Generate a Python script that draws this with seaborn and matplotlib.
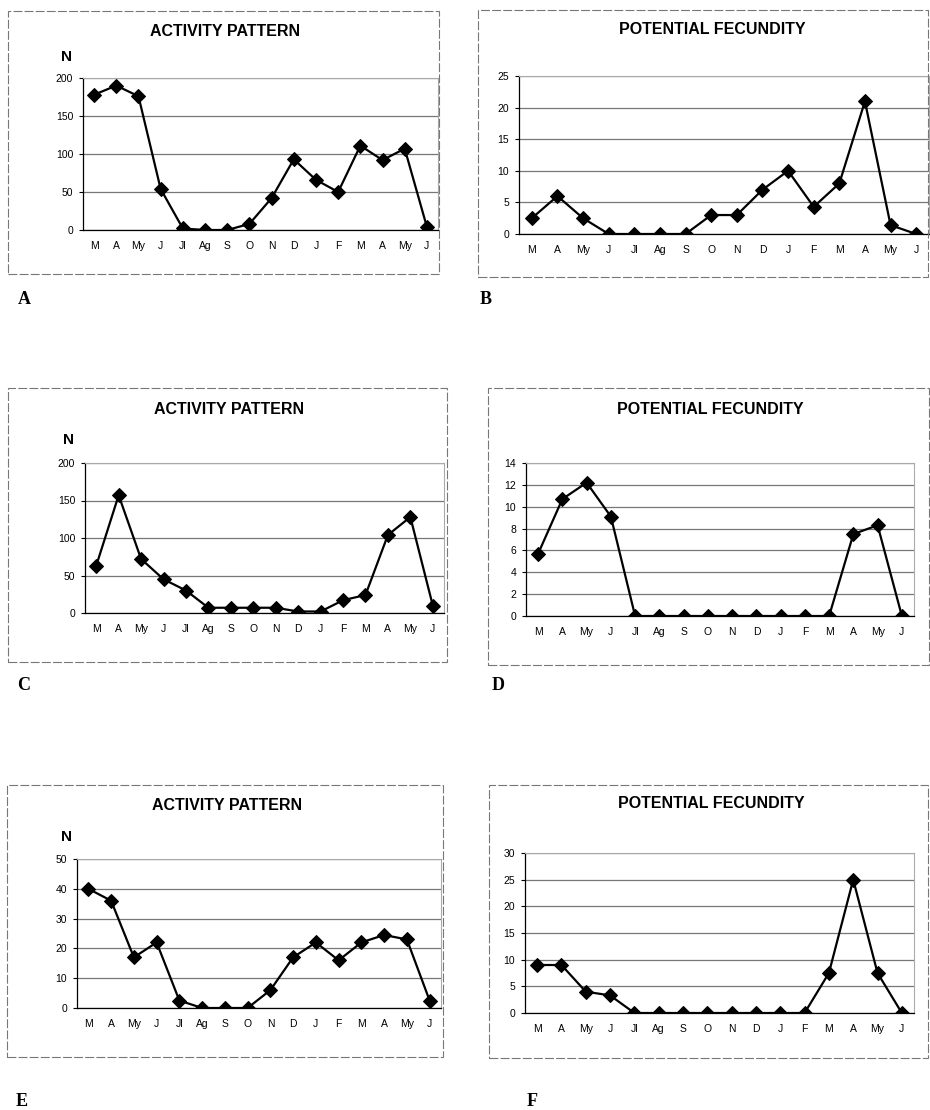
import matplotlib
matplotlib.use("Agg")
import matplotlib.pyplot as plt
import seaborn as sns
from matplotlib.patches import Rectangle

sns.set_style("white")
plt.rcParams['font.family'] = ['Liberation Sans', 'DejaVu Sans']
plt.rcParams['text.color'] = 'black'
plt.rcParams['xtick.color'] = 'black'
plt.rcParams['ytick.color'] = 'black'

months = ['M', 'A', 'My', 'J', 'Jl', 'Ag', 'S', 'O', 'N', 'D', 'J', 'F', 'M', 'A', 'My', 'J']

# values
act_a = [178, 190, 176, 54, 2, 0, 0, 8, 42, 93, 66, 50, 111, 92, 107, 4]
fec_b = [2.5, 6, 2.5, 0, 0, 0, 0, 3, 3, 7, 10, 4.3, 8, 21, 1.4, 0]
act_c = [63, 157, 72, 45, 30, 7, 7, 7, 7, 2, 2, 17, 24, 104, 128, 10]
fec_d = [5.7, 10.7, 12.2, 9.1, 0, 0, 0, 0, 0, 0, 0, 0, 0, 7.5, 8.3, 0]
act_e = [40, 36, 17, 22, 2.5, 0, 0, 0, 6, 17, 22, 16, 22, 24.5, 23, 2.5]
fec_f = [9, 9, 4, 3.3, 0, 0, 0, 0, 0, 0, 0, 0, 7.5, 25, 7.5, 0]

W, H = 930, 1110
fig = plt.figure(figsize=(W / 100, H / 100), dpi=100)


def fx(x):
    return x / W


def fy(y):
    return 1 - y / H


# (data, ymax, ystep, plot box px, frame px, title pos, N pos, letter, letter pos, title)
panels = [
    (act_a, 200, 50, (83, 78, 438, 230), (8, 11, 439, 274), (225, 32), (67, 57), 'A', (18, 299), 'ACTIVITY PATTERN'),
    (fec_b, 25, 5, (519, 76, 929, 234), (478, 10, 928, 277), (712, 30), None, 'B', (480, 300), 'POTENTIAL FECUNDITY'),
    (act_c, 200, 50, (85, 463, 444, 613), (8, 388, 447, 662), (229, 409), (68, 440), 'C', (17, 685), 'ACTIVITY PATTERN'),
    (fec_d, 14, 2, (526, 463, 914, 616), (488, 388, 929, 665), (710, 409), None, 'D', (492, 686), 'POTENTIAL FECUNDITY'),
    (act_e, 50, 10, (77, 859, 441, 1008), (7, 785, 443, 1057), (227, 805), (67, 837), 'E', (16, 1102), 'ACTIVITY PATTERN'),
    (fec_f, 30, 5, (525, 853, 914, 1013), (489, 785, 928, 1058), (711, 804), None, 'F', (527, 1102), 'POTENTIAL FECUNDITY'),
]

for vals, ymax, ystep, box, frame, tpos, npos, letter, lpos, title in panels:
    # outer chart frame
    fl, ft, fr, fb = frame
    fig.patches.append(Rectangle((fx(fl), fy(fb)), fx(fr - fl), (fb - ft) / H,
                                 transform=fig.transFigure, fill=False,
                                 edgecolor='#777777', lw=0.8, ls=(0, (8, 2))))

    l, t, r, b = box
    ax = fig.add_axes([fx(l), fy(b), fx(r - l), (b - t) / H])
    sns.lineplot(x=list(range(len(vals))), y=vals, ax=ax, color='black', lw=1.6,
                 marker='D', markersize=7, markeredgecolor='black')
    ax.set_xlim(-0.5, len(vals) - 0.5)
    ax.set_ylim(0, ymax)
    ax.set_yticks(range(0, ymax + 1, ystep))
    ax.yaxis.grid(True, color='#777777', lw=0.9)
    ax.set_axisbelow(True)
    ax.set_xticks(range(len(vals)))
    ax.set_xticklabels(months, fontsize=7.5)
    ax.set_xticks([i + 0.5 for i in range(len(vals) - 1)], minor=True)
    ax.tick_params(axis='x', which='major', length=0, pad=8)
    ax.tick_params(axis='x', which='minor', length=3, width=0.8, color='black', direction='out')
    ax.tick_params(axis='y', length=3, width=0.8, color='black', labelsize=7.5, pad=4, left=True)
    ax.set_xlabel('')
    ax.set_ylabel('')
    for s in ['top', 'right']:
        ax.spines[s].set_color('#aaaaaa')
        ax.spines[s].set_linewidth(0.8)
    for s in ['left', 'bottom']:
        ax.spines[s].set_color('black')
        ax.spines[s].set_linewidth(0.9)

    fig.text(fx(tpos[0]), fy(tpos[1]), title, ha='center', va='center',
             fontsize=11.5, fontweight='bold')
    if npos is not None:
        fig.text(fx(npos[0]), fy(npos[1]), 'N', ha='center', va='center',
                 fontsize=11, fontweight='bold')
    fig.text(fx(lpos[0]), fy(lpos[1]), letter, ha='left', va='center',
             fontsize=13, fontweight='bold', family=['Liberation Serif', 'DejaVu Serif'])

fig.savefig('out.png', dpi=100)
